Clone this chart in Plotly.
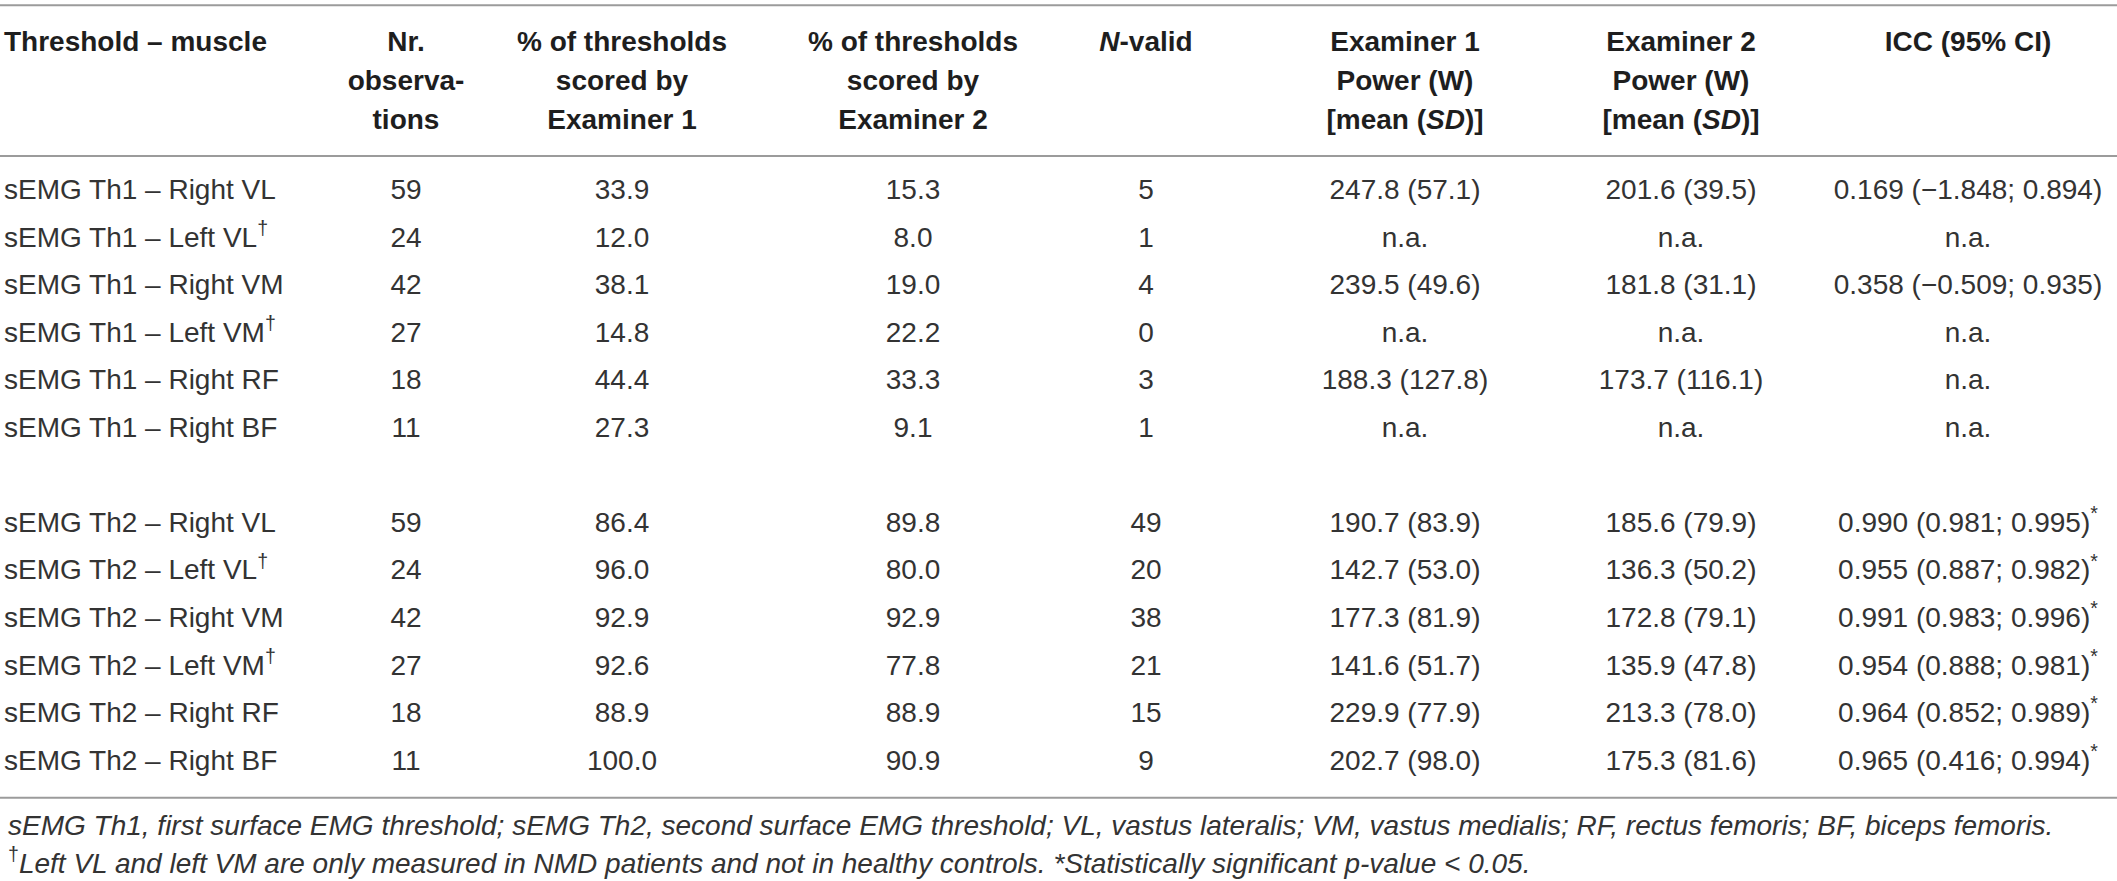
"""
Tabela de concordância entre examinadores (limiares sEMG) desenhada com Plotly
"""

import plotly.graph_objects as go

# ---------------------------------------------------------------------------
# Dados
# ---------------------------------------------------------------------------
muscles = ["Right VL", "Left VL", "Right VM", "Left VM", "Right RF", "Right BF"]
left_only = [False, True, False, True, False, False]   # marcados com †

th1_nr_obs = [59, 24, 42, 27, 18, 11]
th1_pct_ex1 = [33.9, 12.0, 38.1, 14.8, 44.4, 27.3]
th1_pct_ex2 = [15.3, 8.0, 19.0, 22.2, 33.3, 9.1]
th1_n_valid = [5, 1, 4, 0, 3, 1]
th1_ex1_mean = [247.8, None, 239.5, None, 188.3, None]
th1_ex1_sd = [57.1, None, 49.6, None, 127.8, None]
th1_ex2_mean = [201.6, None, 181.8, None, 173.7, None]
th1_ex2_sd = [39.5, None, 31.1, None, 116.1, None]
th1_icc = [0.169, None, 0.358, None, None, None]
th1_icc_lo = [-1.848, None, -0.509, None, None, None]
th1_icc_hi = [0.894, None, 0.935, None, None, None]
th1_signif = [False, False, False, False, False, False]

th2_nr_obs = [59, 24, 42, 27, 18, 11]
th2_pct_ex1 = [86.4, 96.0, 92.9, 92.6, 88.9, 100.0]
th2_pct_ex2 = [89.8, 80.0, 92.9, 77.8, 88.9, 90.9]
th2_n_valid = [49, 20, 38, 21, 15, 9]
th2_ex1_mean = [190.7, 142.7, 177.3, 141.6, 229.9, 202.7]
th2_ex1_sd = [83.9, 53.0, 81.9, 51.7, 77.9, 98.0]
th2_ex2_mean = [185.6, 136.3, 172.8, 135.9, 213.3, 175.3]
th2_ex2_sd = [79.9, 50.2, 79.1, 47.8, 78.0, 81.6]
th2_icc = [0.990, 0.955, 0.991, 0.954, 0.964, 0.965]
th2_icc_lo = [0.981, 0.887, 0.983, 0.888, 0.852, 0.416]
th2_icc_hi = [0.995, 0.982, 0.996, 0.981, 0.989, 0.994]
th2_signif = [True, True, True, True, True, True]

header_line1 = ["Threshold – muscle", "Nr.", "% of thresholds", "% of thresholds",
                "<i>N</i>-valid", "Examiner 1", "Examiner 2", "ICC (95% CI)"]
header_line2 = ["", "observa-", "scored by", "scored by", "", "Power (W)", "Power (W)", ""]
header_line3 = ["", "tions", "Examiner 1", "Examiner 2", "",
                "[mean (<i>SD</i>)]", "[mean (<i>SD</i>)]", ""]

footnote_1 = ("sEMG Th1, first surface EMG threshold; sEMG Th2, second surface EMG threshold; "
              "VL, vastus lateralis; VM, vastus medialis; RF, rectus femoris; BF, biceps femoris.")
footnote_2 = ("Left VL and left VM are only measured in NMD patients and not in healthy controls. "
              "*Statistically significant p-value < 0.05.")

# ---------------------------------------------------------------------------
# Estilo / posições
# ---------------------------------------------------------------------------
FONT = "Liberation Sans, Arial, sans-serif"
TEXT_COLOR = "#333333"
HEAD_COLOR = "#1e1e1e"
RULE_COLOR = "#9b9b9b"
FONT_SIZE = 28
FOOT_SIZE = 28

COL_X = [4, 406, 622, 913, 1146, 1405, 1681, 1968]
HEADER_Y = [-3.12, -2.29, -1.47]
RULES_Y = [-3.93, -0.76, 12.74]
FOOT_Y = [13.33, 14.07]


def fmt(v, d=1):
    if v is None:
        return "n.a."
    return f"{v:.{d}f}".replace("-", "\u2212")


def mean_sd(means, sds):
    return ["n.a." if m is None else f"{fmt(m)} ({fmt(s)})" for m, s in zip(means, sds)]


def icc_text(icc, lo, hi, sig):
    out = []
    for v, a, b, s in zip(icc, lo, hi, sig):
        if v is None:
            out.append("n.a.")
        else:
            out.append(f"{fmt(v, 3)} ({fmt(a, 3)}; {fmt(b, 3)})" + ("<sup>*</sup>" if s else ""))
    return out


def block(th, nr, p1, p2, nv, m1, s1, m2, s2, icc, lo, hi, sig):
    labels = [f"sEMG {th} – {m}" + ("<sup>†</sup>" if l else "") for m, l in zip(muscles, left_only)]
    return [
        labels,
        [str(v) for v in nr],
        [fmt(v) for v in p1],
        [fmt(v) for v in p2],
        [str(v) for v in nv],
        mean_sd(m1, s1),
        mean_sd(m2, s2),
        icc_text(icc, lo, hi, sig),
    ]


b1 = block("Th1", th1_nr_obs, th1_pct_ex1, th1_pct_ex2, th1_n_valid, th1_ex1_mean, th1_ex1_sd,
           th1_ex2_mean, th1_ex2_sd, th1_icc, th1_icc_lo, th1_icc_hi, th1_signif)
b2 = block("Th2", th2_nr_obs, th2_pct_ex1, th2_pct_ex2, th2_n_valid, th2_ex1_mean, th2_ex1_sd,
           th2_ex2_mean, th2_ex2_sd, th2_icc, th2_icc_lo, th2_icc_hi, th2_signif)

# segundo bloco começa depois de uma linha em branco
row_y = list(range(len(muscles))) + [len(muscles) + 1 + i for i in range(len(muscles))]
columns = [c1 + c2 for c1, c2 in zip(b1, b2)]

fig = go.Figure()

# corpo da tabela
for j, col in enumerate(columns):
    fig.add_trace(go.Scatter(
        x=[COL_X[j]] * len(col),
        y=row_y,
        mode="text",
        text=col,
        textposition="middle right" if j == 0 else "middle center",
        textfont=dict(family=FONT, size=FONT_SIZE, color=TEXT_COLOR),
        hoverinfo="skip",
    ))

# cabeçalho (só as células com texto)
for k, line in enumerate([header_line1, header_line2, header_line3]):
    idx = [j for j, t in enumerate(line) if t]
    fig.add_trace(go.Scatter(
        x=[COL_X[j] for j in idx],
        y=[HEADER_Y[k]] * len(idx),
        mode="text",
        text=[f"<b>{line[j]}</b>" for j in idx],
        textposition=["middle right" if j == 0 else "middle center" for j in idx],
        textfont=dict(family=FONT, size=FONT_SIZE, color=HEAD_COLOR),
        hoverinfo="skip",
    ))

# linhas horizontais
for yv in RULES_Y:
    fig.add_shape(type="line", xref="paper", x0=0, x1=1, yref="y", y0=yv, y1=yv,
                  line=dict(color=RULE_COLOR, width=2))

# notas de rodapé
for yv, txt in zip(FOOT_Y, [f"<i>{footnote_1}</i>", f"<sup>†</sup><i>{footnote_2}</i>"]):
    fig.add_annotation(x=6, y=yv, xref="x", yref="y", text=txt, showarrow=False,
                       xanchor="left", yanchor="middle",
                       font=dict(family=FONT, size=FOOT_SIZE, color=TEXT_COLOR))

fig.update_layout(
    width=2117,
    height=881,
    margin=dict(l=0, r=0, t=0, b=0),
    paper_bgcolor="white",
    plot_bgcolor="white",
    showlegend=False,
    xaxis=dict(visible=False, range=[0, 2117], fixedrange=True),
    yaxis=dict(visible=False, range=[14.49, -4.04], fixedrange=True),
)

fig.write_html("out.html", config={"displayModeBar": False},
               post_script="document.body.style.margin='0';")
